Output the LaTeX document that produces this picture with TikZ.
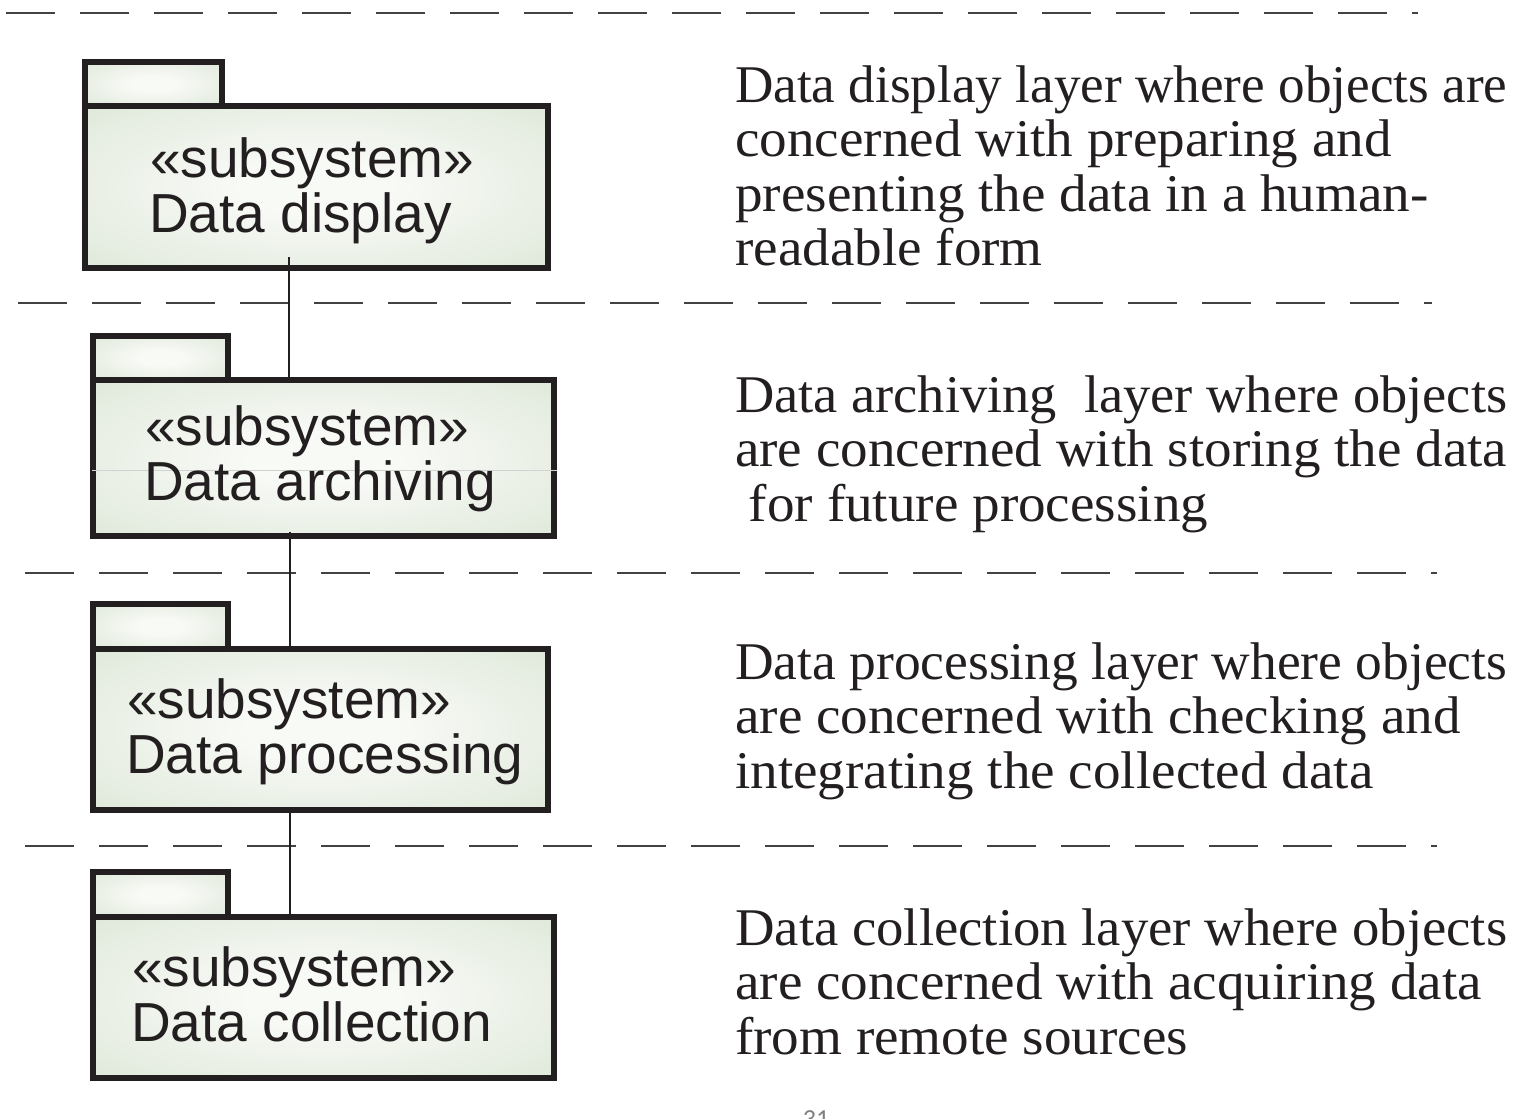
\documentclass[tikz,border=0pt]{standalone}
\usepackage{graphicx}
\usepackage{fontspec}
\newfontfamily\boxfont{Liberation Sans}
\newfontfamily\notefont[FakeStretch=1.04]{Liberation Serif}
\newfontfamily\pagefont{Carlito}
\definecolor{pkgedge}{RGB}{211,223,204}
\definecolor{pkgcentre}{RGB}{248,250,246}
\definecolor{ink}{RGB}{35,31,32}
\pgfdeclareradialshading{pkgglow}{\pgfpointorigin}{color(0bp)=(pkgcentre); color(8bp)=(pkgcentre); color(50bp)=(pkgedge); color(75bp)=(pkgedge)}
% a description line fitted to the full column width
\newcommand\jline[1]{\resizebox{772pt}{\height}{#1}}
\tikzset{
  pkgshape/.style={rectangle, draw=ink, line width=6pt, shading=pkgglow, inner sep=0pt},
  layerline/.style={draw=ink!85, line width=2pt, dash pattern=on 49pt off 25pt},
  link/.style={draw=ink, line width=1.3pt},
  boxtext/.style={font=\boxfont\fontsize{55}{60}\selectfont, text=ink, inner sep=0pt, anchor=base west},
  notetext/.style={font=\notefont\fontsize{53}{55}\selectfont, text=ink, inner sep=0pt, anchor=base west},
}
\begin{document}
\begin{tikzpicture}[x=1pt, y=-1pt]
\useasboundingbox (0,0) rectangle (1513,1119);

% layer separators
\coordinate (s1w) at (6,13);    \coordinate (s1e) at (1418,13);
\coordinate (s2w) at (18,303);  \coordinate (s2e) at (1432,303);
\coordinate (s3w) at (25,573);  \coordinate (s3e) at (1437,573);
\coordinate (s4w) at (25,846);  \coordinate (s4e) at (1437,846);
\draw[layerline] (s1w) -- (s1e);
\draw[layerline] (s2w) -- (s2e);
\draw[layerline] (s3w) -- (s3e);
\draw[layerline] (s4w) -- (s4e);

% packages: tab first, body on top of it
\node[pkgshape, minimum width=137pt, minimum height=44pt] (tab1) at (153.5,84) {};
\node[pkgshape, minimum width=463pt, minimum height=162pt] (b1) at (316.5,187) {};
\node[pkgshape, minimum width=135pt, minimum height=44pt] (tab2) at (160.5,358) {};
\node[pkgshape, minimum width=461pt, minimum height=156pt] (b2) at (323.5,458) {};
\node[pkgshape, minimum width=135pt, minimum height=45pt] (tab3) at (160.5,626.5) {};
\node[pkgshape, minimum width=455pt, minimum height=161pt] (b3) at (320.5,729.5) {};
\node[pkgshape, minimum width=135pt, minimum height=45pt] (tab4) at (160.5,894.5) {};
\node[pkgshape, minimum width=461pt, minimum height=161pt] (b4) at (323.5,997.5) {};

% faint rule across the second package
\draw[gray!35, line width=0.8pt] (92,470) -- (557,470);

% package labels
\node[boxtext] (k1) at (150,177) {«subsystem»};
\node[boxtext] (n1) at (149,232) {Data display};
\node[boxtext] (k2) at (145,445) {«subsystem»};
\node[boxtext] (n2) at (144,500) {Data archiving};
\node[boxtext] (k3) at (127,718) {«subsystem»};
\node[boxtext] (n3) at (126,773) {Data processing};
\node[boxtext] (k4) at (132,986) {«subsystem»};
\node[boxtext] (n4) at (131,1041) {Data collection};

% dependencies between the layers
\coordinate (j1) at (289,257);
\coordinate (j2) at (290,532);
\draw[link] (j1) -- (j1 |- b2.north);
\draw[link] (j2) -- (j2 |- b3.north);
\draw[link] (b3.south -| j2) -- (b4.north -| j2);

% layer descriptions
\node[notetext] (d1a) at (735,102)   {\jline{Data display layer where objects are}};
\node[notetext] (d1b) at (735,156.5) {concerned with preparing and};
\node[notetext] (d1c) at (735,211)   {presenting the data in a human-};
\node[notetext] (d1d) at (735,265.5) {readable form};

\node[notetext] (d2a) at (735,412)   {\jline{Data archiving~ layer where objects}};
\node[notetext] (d2b) at (735,466.5) {\jline{are concerned with storing the data}};
\node[notetext] (d2c) at (735,521)   {~for future processing};

\node[notetext] (d3a) at (735,679)   {\jline{Data processing layer where objects}};
\node[notetext] (d3b) at (735,733.5) {are concerned with checking and};
\node[notetext] (d3c) at (735,788)   {integrating the collected data};

\node[notetext] (d4a) at (735,945)   {\jline{Data collection layer where objects}};
\node[notetext] (d4b) at (735,999.5) {are concerned with acquiring data};
\node[notetext] (d4c) at (735,1054)  {from remote sources};

% page number, cut by the lower edge
\node[font=\pagefont\fontsize{26}{26}\selectfont, text=gray, inner sep=0pt, anchor=base] (pg) at (816,1127) {31};
\end{tikzpicture}
\end{document}
